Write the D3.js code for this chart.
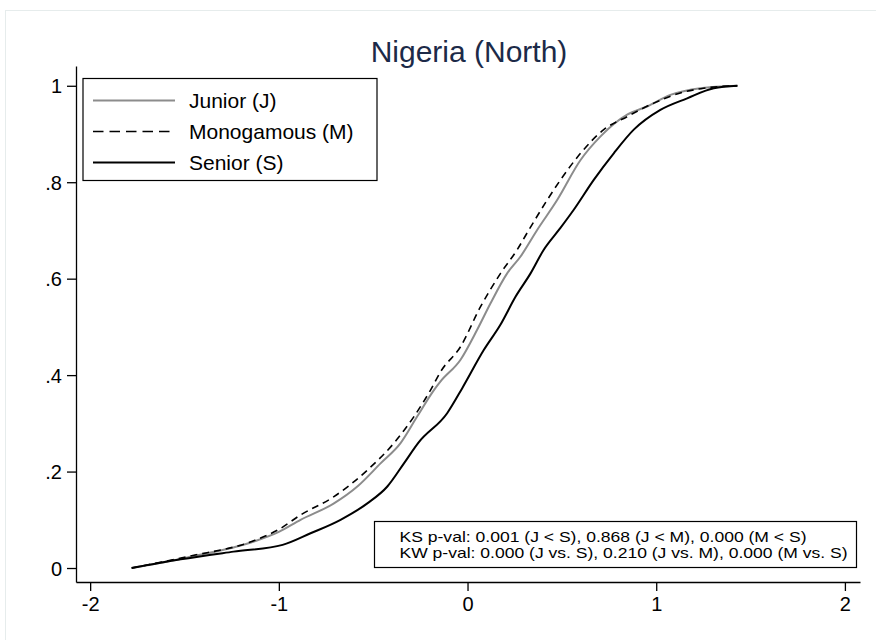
<!DOCTYPE html>
<html>
<head>
<meta charset="utf-8">
<script src="https://cdn.jsdelivr.net/npm/d3@7"></script>
<style>
  body { margin: 0; background: #fff; }
  text { font-family: "Liberation Sans", Arial, sans-serif; }
</style>
</head>
<body>
<div id="chart"></div>
<script>
// cumulative distributions: [x, F(x)]
const junior = [
  [-1.78, 0], [-1.485, 0.022], [-1.132, 0.055], [-1.0, 0.075], [-0.885, 0.1],
  [-0.708, 0.134], [-0.584, 0.169], [-0.461, 0.217], [-0.355, 0.259], [-0.267, 0.314],
  [-0.178, 0.369], [-0.143, 0.387], [-0.037, 0.432], [0.051, 0.494], [0.122, 0.549],
  [0.21, 0.611], [0.281, 0.646], [0.369, 0.701], [0.475, 0.763], [0.599, 0.846],
  [0.705, 0.895], [0.846, 0.94], [0.952, 0.957], [1.075, 0.981], [1.234, 0.995], [1.43, 1]
];
const monogamous = [
  [-1.78, 0], [-1.48, 0.024], [-1.13, 0.057], [-1.0, 0.08], [-0.885, 0.11],
  [-0.708, 0.148], [-0.531, 0.203], [-0.39, 0.259], [-0.284, 0.314], [-0.196, 0.369],
  [-0.143, 0.407], [-0.037, 0.459], [0.069, 0.542], [0.175, 0.611], [0.263, 0.66],
  [0.325, 0.701], [0.422, 0.763], [0.493, 0.805], [0.599, 0.86], [0.722, 0.909],
  [0.846, 0.936], [0.987, 0.964], [1.128, 0.985], [1.252, 0.995], [1.43, 1]
];
const senior = [
  [-1.78, 0], [-1.52, 0.018], [-1.24, 0.034], [-0.98, 0.048], [-0.832, 0.072],
  [-0.673, 0.1], [-0.531, 0.134], [-0.425, 0.169], [-0.337, 0.217], [-0.26, 0.26],
  [-0.108, 0.321], [-0.028, 0.373], [0.086, 0.452], [0.175, 0.505],
  [0.255, 0.563], [0.334, 0.611], [0.404, 0.66], [0.484, 0.701], [0.563, 0.743],
  [0.669, 0.805], [0.775, 0.86], [0.881, 0.909], [1.022, 0.95], [1.164, 0.974],
  [1.305, 0.995], [1.43, 1]
];

const xTicks = [-2, -1, 0, 1, 2];
const yTicks = [0, 0.2, 0.4, 0.6, 0.8, 1];
const yTickLabels = ["0", ".2", ".4", ".6", ".8", "1"];
const seriesNames = ["Junior (J)", "Monogamous (M)", "Senior (S)"];
const notes = [
  "KS p-val: 0.001 (J < S), 0.868 (J < M), 0.000 (M < S)",
  "KW p-val: 0.000 (J vs. S), 0.210 (J vs. M), 0.000 (M vs. S)"
];

const W = 876, H = 640;
const svg = d3.select("#chart").append("svg")
    .attr("width", W)
    .attr("height", H);

// faint outer frame
svg.append("rect")
    .attr("x", 5.5).attr("y", 10.5)
    .attr("width", 900).attr("height", 700)
    .attr("fill", "none").attr("stroke", "#e6ecec");

const x = d3.scaleLinear().domain([-2.075, 2.08]).range([76, 860]);
const y = d3.scaleLinear().domain([-0.029, 1.041]).range([582, 66]);

// title
svg.append("text")
    .attr("x", 469).attr("y", 62)
    .attr("text-anchor", "middle")
    .attr("font-size", 30)
    .attr("fill", "#1c2a48")
    .text("Nigeria (North)");

// axes
const xAxis = svg.append("g")
    .attr("transform", `translate(0,${y.range()[0]})`)
    .call(d3.axisBottom(x).tickValues(xTicks).tickSizeOuter(0).tickSizeInner(9).tickPadding(6)
        .tickFormat(d => d < 0 ? "-" + Math.abs(d) : d));
const yAxis = svg.append("g")
    .attr("transform", `translate(${x.range()[0]},0)`)
    .call(d3.axisLeft(y).tickValues(yTicks).tickSizeOuter(0).tickSizeInner(9).tickPadding(5)
        .tickFormat((d, i) => yTickLabels[i]));

[xAxis, yAxis].forEach(g => {
    g.selectAll("path, line").attr("stroke", "#000").attr("stroke-width", 1.3);
    g.selectAll("text").attr("font-size", 20).attr("fill", "#000")
        .style("font-family", "'Liberation Sans', Arial, sans-serif");
});
yAxis.selectAll("text").attr("dy", "0.36em");

// curves
const line = d3.line()
    .x(d => x(d[0]))
    .y(d => y(d[1]))
    .curve(d3.curveMonotoneX);

const styles = [
    { data: junior, stroke: "#8c8c8c", width: 2, dash: null, legendDash: null },
    { data: monogamous, stroke: "#000", width: 1.6, dash: "7,5", legendDash: "10.5,6" },
    { data: senior, stroke: "#000", width: 2, dash: null, legendDash: null }
];

styles.forEach(s => {
    svg.append("path")
        .datum(s.data)
        .attr("d", line)
        .attr("fill", "none")
        .attr("stroke", s.stroke)
        .attr("stroke-width", s.width)
        .attr("stroke-dasharray", s.dash);
});

// legend
const legend = svg.append("g").attr("transform", "translate(83,78.5)");
legend.append("rect")
    .attr("width", 294).attr("height", 102)
    .attr("fill", "#fff").attr("stroke", "#000").attr("stroke-width", 1.2);
seriesNames.forEach((name, i) => {
    const cy = 22 + i * 31;
    legend.append("line")
        .attr("x1", 10).attr("x2", 92)
        .attr("y1", cy).attr("y2", cy)
        .attr("stroke", styles[i].stroke)
        .attr("stroke-width", styles[i].width)
        .attr("stroke-dasharray", styles[i].legendDash);
    legend.append("text")
        .attr("x", 106).attr("y", cy)
        .attr("dy", "0.36em")
        .attr("font-size", 21)
        .text(name);
});

// test results box (glyphs a little wide, as in the original)
const noteWidths = [407, 448];
const note = svg.append("g").attr("transform", "translate(374.5,521.5)");
note.append("rect")
    .attr("width", 482).attr("height", 46)
    .attr("fill", "#fff").attr("stroke", "#000").attr("stroke-width", 1.2);
notes.forEach((t, i) => {
    note.append("text")
        .attr("x", 25).attr("y", 15.5 + i * 16)
        .attr("dy", "0.36em")
        .attr("font-size", 15)
        .attr("textLength", noteWidths[i])
        .attr("lengthAdjust", "spacingAndGlyphs")
        .text(t);
});
</script>
</body>
</html>
